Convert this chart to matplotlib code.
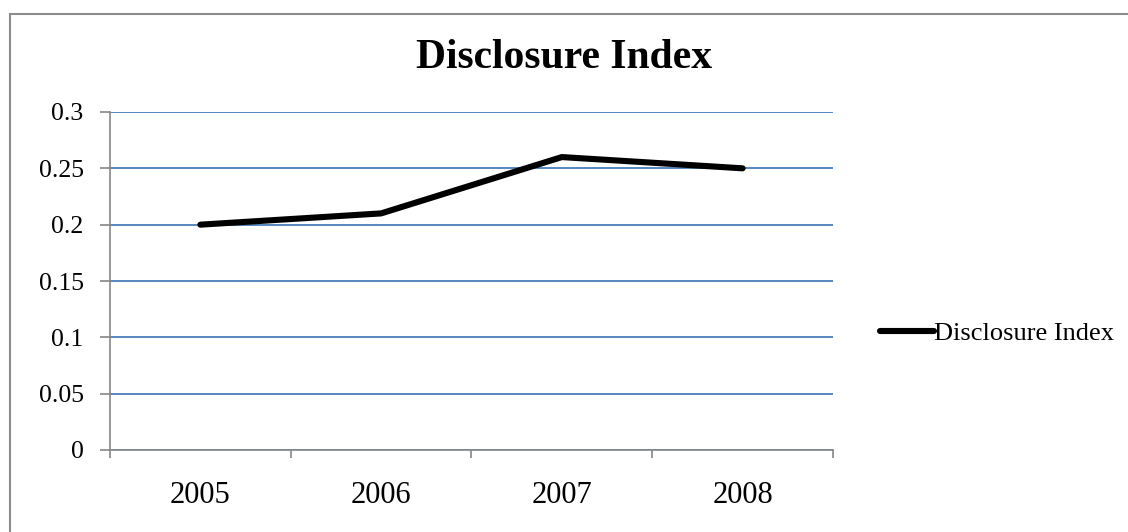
import matplotlib.pyplot as plt
from matplotlib.patches import Rectangle
from matplotlib.ticker import FixedLocator

# Chart data
years = ["2005", "2006", "2007", "2008"]
disclosure = [0.20, 0.21, 0.26, 0.25]
yticks = [0, 0.05, 0.1, 0.15, 0.2, 0.25, 0.3]
ytick_labels = ["0", "0.05", "0.1", "0.15", "0.2", "0.25", "0.3"]

plt.rcParams["font.family"] = ["Liberation Serif", "DejaVu Serif"]

fig = plt.figure(figsize=(11.28, 5.32), dpi=100)

# Outer chart border (cut off at right and bottom)
fig.patches.append(Rectangle((10 / 1128, -0.1), 1.2, (532 - 14) / 532 + 0.1,
                             transform=fig.transFigure, fill=False,
                             edgecolor="#8c8c8c", linewidth=1.5))

ax = fig.add_axes([110 / 1128, (532 - 450) / 532, (833 - 110) / 1128, (450 - 112) / 532])

x = list(range(len(years)))
ax.plot(x, disclosure, color="black", linewidth=4.4, solid_capstyle="round",
        label="Disclosure Index", zorder=3)

ax.set_xlim(-0.5, len(years) - 0.5)
ax.set_ylim(0, 0.3)

ax.set_yticks(yticks)
ax.set_yticklabels(ytick_labels, fontsize=18.5)
ax.set_xticks(x)
ax.set_xticklabels(years, fontsize=22)
ax.xaxis.set_minor_locator(FixedLocator([i - 0.5 for i in range(len(years) + 1)]))

ax.tick_params(axis="x", which="major", length=0, pad=22)
ax.tick_params(axis="x", which="minor", length=6, color="#868686", width=1.2)
ax.tick_params(axis="y", length=7, color="#868686", width=1.2, pad=12)

ax.grid(axis="y", color="#4a7ebb", linewidth=1.3)
ax.set_axisbelow(True)

for s in ["top", "right"]:
    ax.spines[s].set_visible(False)
for s in ["left", "bottom"]:
    ax.spines[s].set_color("#868686")
    ax.spines[s].set_linewidth(1.2)
    ax.spines[s].set_zorder(2.5)

fig.text(0.5, (532 - 58) / 532, "Disclosure Index", ha="center", va="center",
         fontsize=30, fontweight="bold")

fig.legend(loc="center left", bbox_to_anchor=(880 / 1128, (532 - 333) / 532),
           frameon=False, fontsize=19, handlelength=2.05, handletextpad=0.0,
           borderpad=0, borderaxespad=0)

fig.savefig("out.png", dpi=100)
